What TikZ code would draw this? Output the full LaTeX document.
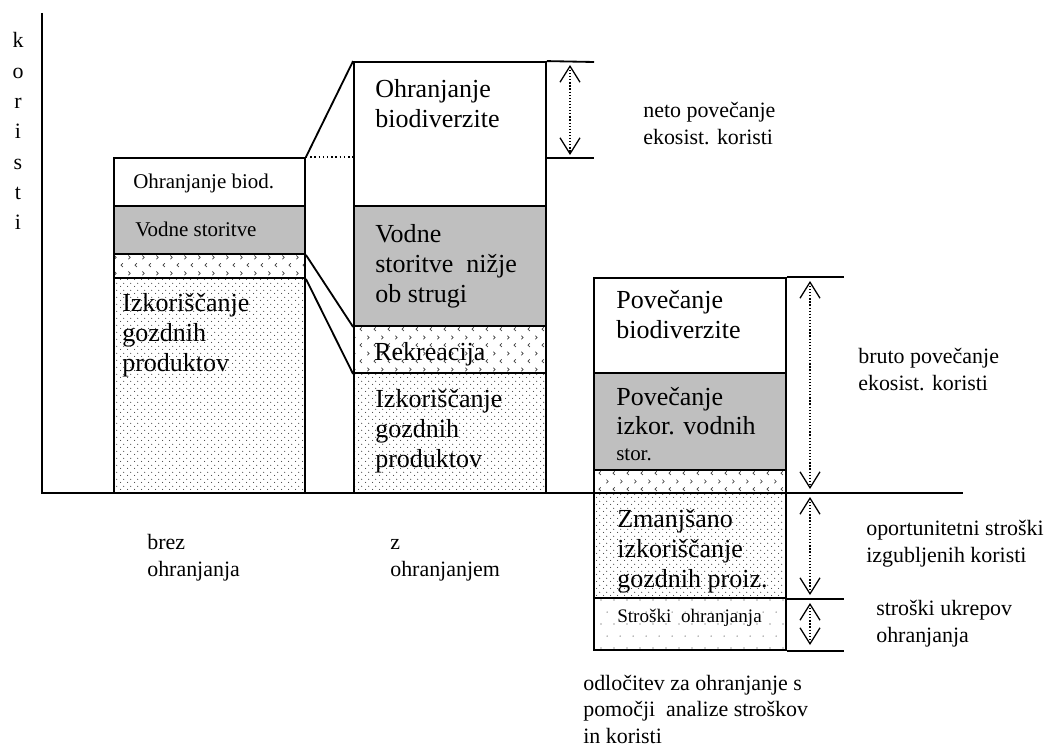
\documentclass[tikz,border=0pt]{standalone}
\usepackage{fontspec}
\setmainfont{Liberation Serif}
\usetikzlibrary{arrows.meta,patterns,fit}

% fill patterns of the bar segments
\pgfdeclarepatternformonly{stipple}{\pgfqpoint{0pt}{0pt}}{\pgfqpoint{4.7pt}{4.7pt}}{\pgfqpoint{4.7pt}{4.7pt}}{%
  \pgfpathcircle{\pgfqpoint{1.175pt}{1.175pt}}{0.42pt}%
  \pgfpathcircle{\pgfqpoint{3.525pt}{3.525pt}}{0.42pt}%
  \pgfusepath{fill}}
\pgfdeclarepatternformonly{sparsedots}{\pgfqpoint{0pt}{0pt}}{\pgfqpoint{9.25pt}{17pt}}{\pgfqpoint{9.25pt}{17pt}}{%
  \pgfpathcircle{\pgfqpoint{2.3pt}{4.25pt}}{0.45pt}%
  \pgfpathcircle{\pgfqpoint{6.95pt}{12.75pt}}{0.45pt}%
  \pgfusepath{fill}}
\pgfdeclarepatternformonly{chevrons}{\pgfqpoint{0pt}{0pt}}{\pgfqpoint{10pt}{11.4pt}}{\pgfqpoint{10pt}{11.4pt}}{%
  \pgfsetlinewidth{0.5pt}%
  \pgfpathmoveto{\pgfqpoint{1.8pt}{9.9pt}}\pgfpathlineto{\pgfqpoint{3.2pt}{8.55pt}}\pgfpathlineto{\pgfqpoint{1.8pt}{7.2pt}}%
  \pgfpathmoveto{\pgfqpoint{8.2pt}{4.2pt}}\pgfpathlineto{\pgfqpoint{6.8pt}{2.85pt}}\pgfpathlineto{\pgfqpoint{8.2pt}{1.5pt}}%
  \pgfusepath{stroke}}

\newcommand{\fbig}{\fontsize{18.5}{21.3}\selectfont}
\newcommand{\fsmall}{\fontsize{14.9}{17}\selectfont}
\newcommand{\flab}{\fontsize{15.6}{18.5}\selectfont}
\newcommand{\ftiny}{\fontsize{13.6}{15}\selectfont}

% text nodes are placed at the baseline of their last line
\tikzset{
  block/.style={draw, line width=1.3pt, inner sep=0pt},
  water/.style={block, fill=black!25},
  forest/.style={block, pattern=stipple, pattern color=black!75},
  recr/.style={block, pattern=chevrons, pattern color=black!75},
  cost/.style={block, pattern=sparsedots, pattern color=black!75},
  txt/.style={inner sep=0pt, anchor=base west, align=left, font=\fbig},
  lbl/.style={inner sep=0pt, anchor=base west, align=left, font=\flab},
  edge/.style={line width=1.3pt},
  span/.style={line width=0.9pt, dash pattern=on 0.9pt off 1.3pt,
    {Straight Barb[length=0.4cm,width=0.5cm]}-{Straight Barb[length=0.4cm,width=0.5cm]}}
}

\begin{document}
\begin{tikzpicture}[x=0.025cm, y=-0.025cm]
		\useasboundingbox (0,0) rectangle (1050,749);
		
		% axes
		\coordinate (ytop) at (42,13);
		\coordinate (o) at (42,493);
		\coordinate (xend) at (963,493);
		\draw[line width=1.6pt] (ytop) -- (o) -- (xend);
		\foreach \l [count=\i] in {k,o,r,i,s,t,i}
			\node[lbl, anchor=base] (ax\i) at ({18},{48+30.3*(\i-1)}) {\l};
		
		% bar 1: brez ohranjanja
		\node[block, fit={(114,158) (305,206)}] (b1bio) {};
		\node[water, fit={(114,206) (305,254)}] (b1wat) {};
		\node[recr, fit={(114,254) (305,278)}] (b1rec) {};
		\node[forest, fit={(114,278) (305,493)}] (b1for) {};
		\node[txt, font=\fsmall] (t1bio) at (133,188) {Ohranjanje biod.};
		\node[txt, font=\fsmall] (t1wat) at (135,236) {Vodne storitve};
		\node[txt] (t1for) at (122,371) {Izkoriščanje\\gozdnih\\produktov};
		
		% bar 2: z ohranjanjem
		\node[block, fit={(354,62) (546,206)}] (b2bio) {};
		\node[water, fit={(354,206) (546,326)}] (b2wat) {};
		\node[recr, fit={(354,326) (546,373)}] (b2rec) {};
		\node[forest, fit={(354,373) (546,493)}] (b2for) {};
		\node[txt] (t2bio) at (375,127) {Ohranjanje\\biodiverzite};
		\node[txt] (t2wat) at (375,302) {Vodne\\storitve~ nižje\\ob strugi};
		\node[txt] (t2rec) at (374,360) {Rekreacija};
		\node[txt] (t2for) at (375,467) {Izkoriščanje\\gozdnih\\produktov};
		
		% connectors between bar 1 and bar 2
		\draw[edge] (b1bio.north east) -- (b2bio.north west);
		\draw[line width=1pt, dotted] (b1bio.north east) -- (b1bio.north east -| b2bio.west);
		\draw[edge] (b1wat.south east) -- (b2wat.south west);
		\draw[edge] (b1rec.south east) -- (b2rec.south west);
		
		% bar 3: odlocitev
		\node[block, fit={(594,278) (786,373)}] (b3bio) {};
		\node[water, fit={(594,373) (786,470)}] (b3wat) {};
		\node[recr, fit={(594,470) (786,493)}] (b3rec) {};
		\node[forest, fit={(594,493) (786,598)}] (b3for) {};
		\node[cost, fit={(594,598) (786,650)}] (b3cost) {};
		\node[txt] (t3bio) at (616,338) {Povečanje\\biodiverzite};
		\node[txt] (t3wat) at (616,460) {Povečanje\\izkor. vodnih\\[-3.5pt]{\fsmall stor.}};
		\node[txt] (t3for) at (617,587) {Zmanjšano\\izkoriščanje\\gozdnih proiz.};
		\node[txt, font=\ftiny] (t3cost) at (617,622) {Stroški~ ohranjanja};
		
		% extents
		\coordinate (n1) at (594,62);
		\coordinate (n2l) at (546,158);
		\coordinate (n2) at (594,158);
		\draw[edge] (b2bio.north east) -- (n1);
		\draw[edge] (n2l) -- (n2);
		\draw[edge] (b3bio.north east) -- ++(57,0) coordinate (r1);
		\draw[edge] (b3for.south east) -- ++(57,0) coordinate (r2);
		\draw[edge] (b3cost.south east) -- ++(57,0) coordinate (r3);
		
		\coordinate (g1) at (570,65);
		\coordinate (g2) at (570,155);
		\coordinate (g3) at (810,281);
		\coordinate (g4) at (810,489);
		\coordinate (g5) at (810,497);
		\coordinate (g6) at (810,595);
		\coordinate (g7) at (810,603);
		\coordinate (g8) at (810,645);
		\draw[span] (g1) -- (g2);
		\draw[span] (g3) -- (g4);
		\draw[span] (g5) -- (g6);
		\draw[span] (g7) -- (g8);
		
		% labels
		\node[lbl] (neto) at (643,144) {neto povečanje\\ekosist. koristi};
		\node[lbl] (bruto) at (858,390) {bruto povečanje\\ekosist. koristi};
		\node[lbl] (oport) at (866,562) {oportunitetni stroški\\izgubljenih koristi};
		\node[lbl] (ukrep) at (876,642) {stroški ukrepov\\ohranjanja};
		\node[lbl] (brez) at (147,576) {brez\\ohranjanja};
		\node[lbl] (zohr) at (390,576) {z\\ohranjanjem};
		\node[lbl] (odloc) at (583,743) {odločitev za ohranjanje s\\pomočji~ analize stroškov\\in koristi};
\end{tikzpicture}
\end{document}
